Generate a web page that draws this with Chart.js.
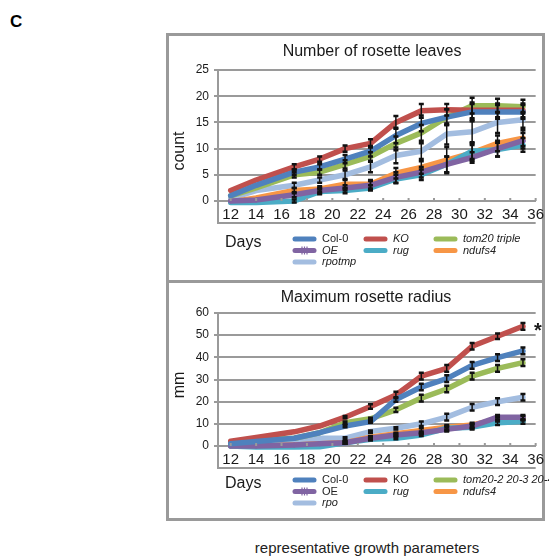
<!DOCTYPE html>
<html>
<head>
<meta charset="utf-8">
<script src="https://cdn.jsdelivr.net/npm/chart.js@4/dist/chart.umd.min.js"></script>
<style>
  body { margin: 0; width: 549px; height: 557px; overflow: hidden; background: #fff; position: relative;
         font-family: "Liberation Sans", Arial, sans-serif; }
  .panel { position: absolute; left: 166px; width: 379px; border: 3px solid #9a9a9a; box-sizing: border-box; }
  canvas { position: absolute; }
  #letter { position: absolute; left: 10px; top: 12px; font-size: 17px; font-weight: bold; }
  #caption { position: absolute; left: 167px; width: 400px; top: 539px; text-align: center; font-size: 15px; color: #222; }
</style>
</head>
<body>
<div id="letter">C</div>
<div class="panel" style="top:33px;height:250px"></div>
<div class="panel" style="top:280px;height:241px"></div>
<canvas id="leaves" width="382" height="247" style="left:167px;top:34px"></canvas>
<canvas id="radius" width="382" height="238" style="left:167px;top:281px"></canvas>
<div id="caption">representative growth parameters</div>
<script>
// days of measurement
const days = [12, 14, 17, 19, 21, 23, 25, 27, 29, 31, 33, 35];
const xTicks = [12, 14, 16, 18, 20, 22, 24, 26, 28, 30, 32, 34, 36];
const countTicks = [0, 5, 10, 15, 20, 25];
const radiusTicks = [0, 10, 20, 30, 40, 50, 60];

const namesLeaves = ['Col-0', 'KO', 'tom20 triple', 'OE', 'rug', 'ndufs4', 'rpotmp'];
const namesRadius = ['Col-0', 'KO', 'tom20-2 20-3 20-4', 'OE', 'rug', 'ndufs4', 'rpo'];

// number of rosette leaves
const col0Count = [1, 3, 5.5, 6.5, 8, 9.5, 12.5, 14.8, 16, 17, 17, 17];
const koCount   = [2, 4, 6.5, 8, 10, 11, 15, 17.2, 17.4, 17.3, 17.3, 17.3];
const tomCount  = [1, 2.5, 5, 5.5, 7, 8.5, 11, 13, 16, 18.2, 18.2, 18];
const oeCount   = [0, 0.2, 1.2, 2, 2.5, 3, 4.5, 5.5, 7, 8.3, 10, 11.5];
const rugCount  = [-0.3, -0.3, 0, 1.8, 2, 2.5, 4.2, 5, 7, 9.5, 9.8, 10.7];
const ndCount   = [-0.2, 0.6, 2, 2.3, 3.2, 3.2, 5.3, 6.4, 7.8, 9.2, 11, 12];
const rpoCount  = [0.5, 2, 3, 4, 5, 6.5, 8.7, 9.5, 12.8, 13.2, 15, 15.5];

const col0CountErr = [0, 0, 0.5, 0.5, 0.8, 1, 1.5, 1.5, 1.5, 1.5, 1.3, 1.3];
const koCountErr   = [0, 0, 0.5, 0.5, 0.6, 0.8, 1.2, 1.3, 1.1, 1.5, 1.3, 1.3];
const tomCountErr  = [0, 0, 0.5, 0.5, 0.8, 0.8, 1.3, 1.5, 1.5, 1.5, 1.3, 1.3];
const oeCountErr   = [0, 0, 0.5, 0.5, 0.5, 0.8, 1, 1, 1.5, 1, 1.5, 1.5];
const rugCountErr  = [0, 0, 0.3, 0.5, 0.5, 0.5, 0.8, 1, 1.5, 1.5, 1.3, 1.3];
const ndCountErr   = [0, 0, 0.5, 0.5, 0.8, 0.8, 1, 1.2, 2.5, 1.5, 1.5, 1.5];
const rpoCountErr  = [0, 0, 0.5, 0.5, 0.8, 1, 1.5, 1.5, 2, 2, 2, 1.5];

// maximum rosette radius (mm)
const col0Radius = [1, 2, 3.5, 6, 9, 11, 21, 26.6, 30.4, 36.4, 39.9, 42.9];
const koRadius   = [2.1, 3.8, 6.4, 9, 13, 17.8, 23, 31.5, 35, 45, 49.5, 54];
const tomRadius  = [1.5, 3, 3.5, 6, 10.5, 12.3, 16.3, 21.6, 25.7, 31.5, 35, 37.6];
const oeRadius   = [0, 0, 0.5, 1, 1.5, 3.5, 5, 6, 7.5, 9, 13, 13];
const rugRadius  = [0, -0.5, -0.5, -0.3, 1.5, 3, 3.5, 5, 8, 8.5, 10.5, 11];
const ndRadius   = [0, 0, 0.5, 1, 1.5, 4, 5.5, 7, 8.5, 9.5, 12, 12.5];
const rpoRadius  = [0.5, 1.5, 2.5, 3.5, 3.5, 6.5, 8, 10, 13, 17.5, 20, 22];

const col0RadiusErr = [0, 0, 0, 0, 0.5, 0.5, 1, 1.5, 1.5, 1.5, 1.5, 1.5];
const koRadiusErr   = [0, 0, 0, 0, 0.5, 1, 1.5, 1.5, 1.5, 1.5, 1.2, 1.5];
const tomRadiusErr  = [0, 0, 0, 0, 0.5, 0.5, 1, 1.5, 1.5, 1.5, 1.5, 1.5];
const oeRadiusErr   = [0, 0, 0, 0, 0.5, 0.5, 0.5, 0.5, 1, 1, 1, 1];
const rugRadiusErr  = [0, 0, 0, 0, 0.5, 0.5, 0.5, 0.5, 1, 1, 1, 1];
const ndRadiusErr   = [0, 0, 0, 0, 0.5, 0.5, 0.5, 1, 1, 1, 1, 1];
const rpoRadiusErr  = [0, 0, 0, 0, 0.5, 0.5, 0.5, 1, 1.5, 1.5, 1.5, 1.5];

const colors = ['#4f81bd', '#c0504d', '#9bbb59', '#8064a2', '#4bacc6', '#f79646', '#a3bde0'];
const font = '"Liberation Sans", Arial, sans-serif';

const decor = {
  id: 'decor',
  afterDatasetsDraw(chart) {
    const ctx = chart.ctx, x = chart.scales.x, y = chart.scales.y;
    ctx.save();
    ctx.strokeStyle = '#111';
    chart.data.datasets.forEach(ds => {
      ds.err.forEach((e, i) => {
        if (!e) return;
        const px = x.getPixelForValue(ds.data[i].x);
        const hi = y.getPixelForValue(ds.data[i].y + e), lo = y.getPixelForValue(ds.data[i].y - e);
        ctx.lineWidth = 1.5;
        ctx.beginPath(); ctx.moveTo(px, hi); ctx.lineTo(px, lo); ctx.stroke();
        ctx.lineWidth = 2.5;
        ctx.beginPath();
        ctx.moveTo(px - 2.5, hi); ctx.lineTo(px + 2.5, hi);
        ctx.moveTo(px - 2.5, lo); ctx.lineTo(px + 2.5, lo);
        ctx.stroke();
      });
    });
    ctx.restore();
  },
  afterDraw(chart, args, o) {
    const ctx = chart.ctx, a = chart.chartArea, x = chart.scales.x;
    ctx.save();
    ctx.strokeStyle = '#9a9a9a';
    ctx.lineWidth = 2;
    ctx.beginPath();
    ctx.moveTo(a.left, a.bottom); ctx.lineTo(a.left, a.bottom + 22); ctx.lineTo(a.right, a.bottom + 22);
    xTicks.forEach(v => {
      const px = x.getPixelForValue(v);
      ctx.moveTo(px, a.bottom); ctx.lineTo(px, a.bottom - 3);
    });
    ctx.stroke();

    ctx.fillStyle = '#1a1a1a';
    ctx.textAlign = 'center';
    ctx.textBaseline = 'middle';
    ctx.font = '16px ' + font;
    ctx.fillText(o.title, o.titleX, o.titleY);

    ctx.save();
    ctx.translate(13, o.yTitleY);
    ctx.rotate(-Math.PI / 2);
    ctx.fillText(o.yTitle, 0, 0);
    ctx.restore();

    ctx.textAlign = 'left';
    ctx.fillText('Days', 58, o.legendY + 4);

    if (o.star) {
      ctx.font = 'bold 20px ' + font;
      ctx.fillText('*', 367, 50);
    }

    const cols = [125, 196, 266];
    o.names.forEach((name, i) => {
      const cx = cols[i % 3], cy = o.legendY + Math.floor(i / 3) * 11.5;
      ctx.strokeStyle = colors[i];
      ctx.lineWidth = 5;
      ctx.lineCap = 'round';
      ctx.beginPath(); ctx.moveTo(cx + 3, cy); ctx.lineTo(cx + 22, cy); ctx.stroke();
      if (i === 3) {
        ctx.lineWidth = 1.2;
        ctx.lineCap = 'butt';
        ctx.beginPath();
        [10, 12.5, 15].forEach(d => { ctx.moveTo(cx + d, cy - 4); ctx.lineTo(cx + d, cy + 4); });
        ctx.stroke();
      }
      ctx.font = (o.italic[i] ? 'italic ' : '') + '11px ' + font;
      ctx.fillStyle = '#222';
      ctx.fillText(name, cx + 30, cy);
    });
    ctx.restore();
  }
};

function makeChart(id, series, errs, names, yMax, yTicks, opts) {
  const datasets = series.map((vals, i) => ({
    label: names[i],
    data: vals.map((v, j) => ({ x: days[j], y: v })),
    err: errs[i],
    borderColor: colors[i],
    backgroundColor: colors[i],
    borderWidth: 5.5,
    borderCapStyle: 'round',
    borderJoinStyle: 'round',
    pointRadius: i === 3 ? 2.5 : 0,
    pointStyle: 'cross',
    pointBorderWidth: 1.5,
    pointBorderColor: colors[i],
    tension: 0,
    clip: 10
  }));
  return new Chart(document.getElementById(id), {
    type: 'line',
    data: { datasets },
    plugins: [decor],
    options: {
      responsive: false,
      animation: false,
      layout: { padding: { top: opts.top, right: 12, left: 0, bottom: 0 } },
      plugins: {
        legend: { display: false },
        tooltip: { enabled: false },
        decor: opts
      },
      scales: {
        x: {
          type: 'linear', min: 11, max: 36,
          afterFit: s => { s.height = opts.xHeight; },
          afterBuildTicks: s => { s.ticks = xTicks.map(v => ({ value: v })); },
          grid: { display: false, drawTicks: false },
          border: { color: '#9a9a9a', width: 2 },
          ticks: { autoSkip: false, maxRotation: 0, padding: 5, color: '#1a1a1a', font: { family: font, size: 15 } }
        },
        y: {
          min: 0, max: yMax,
          afterFit: s => { s.width = 51; },
          afterBuildTicks: s => { s.ticks = yTicks.map(v => ({ value: v })); },
          grid: { color: '#9a9a9a', lineWidth: 2, tickLength: 4 },
          border: { color: '#9a9a9a', width: 2 },
          ticks: { padding: 5, color: '#1a1a1a', font: { family: font, size: 12 } }
        }
      }
    }
  });
}

makeChart('leaves',
  [col0Count, koCount, tomCount, oeCount, rugCount, ndCount, rpoCount],
  [col0CountErr, koCountErr, tomCountErr, oeCountErr, rugCountErr, ndCountErr, rpoCountErr],
  namesLeaves, 25, countTicks,
  { top: 36, xHeight: 80, title: 'Number of rosette leaves', titleX: 205, titleY: 18,
    yTitle: 'count', yTitleY: 117, legendY: 205, names: namesLeaves,
    italic: [false, true, true, true, true, true, true], star: false });

makeChart('radius',
  [col0Radius, koRadius, tomRadius, oeRadius, rugRadius, ndRadius, rpoRadius],
  [col0RadiusErr, koRadiusErr, tomRadiusErr, oeRadiusErr, rugRadiusErr, ndRadiusErr, rpoRadiusErr],
  namesRadius, 60, radiusTicks,
  { top: 32, xHeight: 73, title: 'Maximum rosette radius', titleX: 199, titleY: 17,
    yTitle: 'mm', yTitleY: 104, legendY: 199, names: namesRadius,
    italic: [false, false, true, false, true, true, true], star: true });
</script>
</body>
</html>
